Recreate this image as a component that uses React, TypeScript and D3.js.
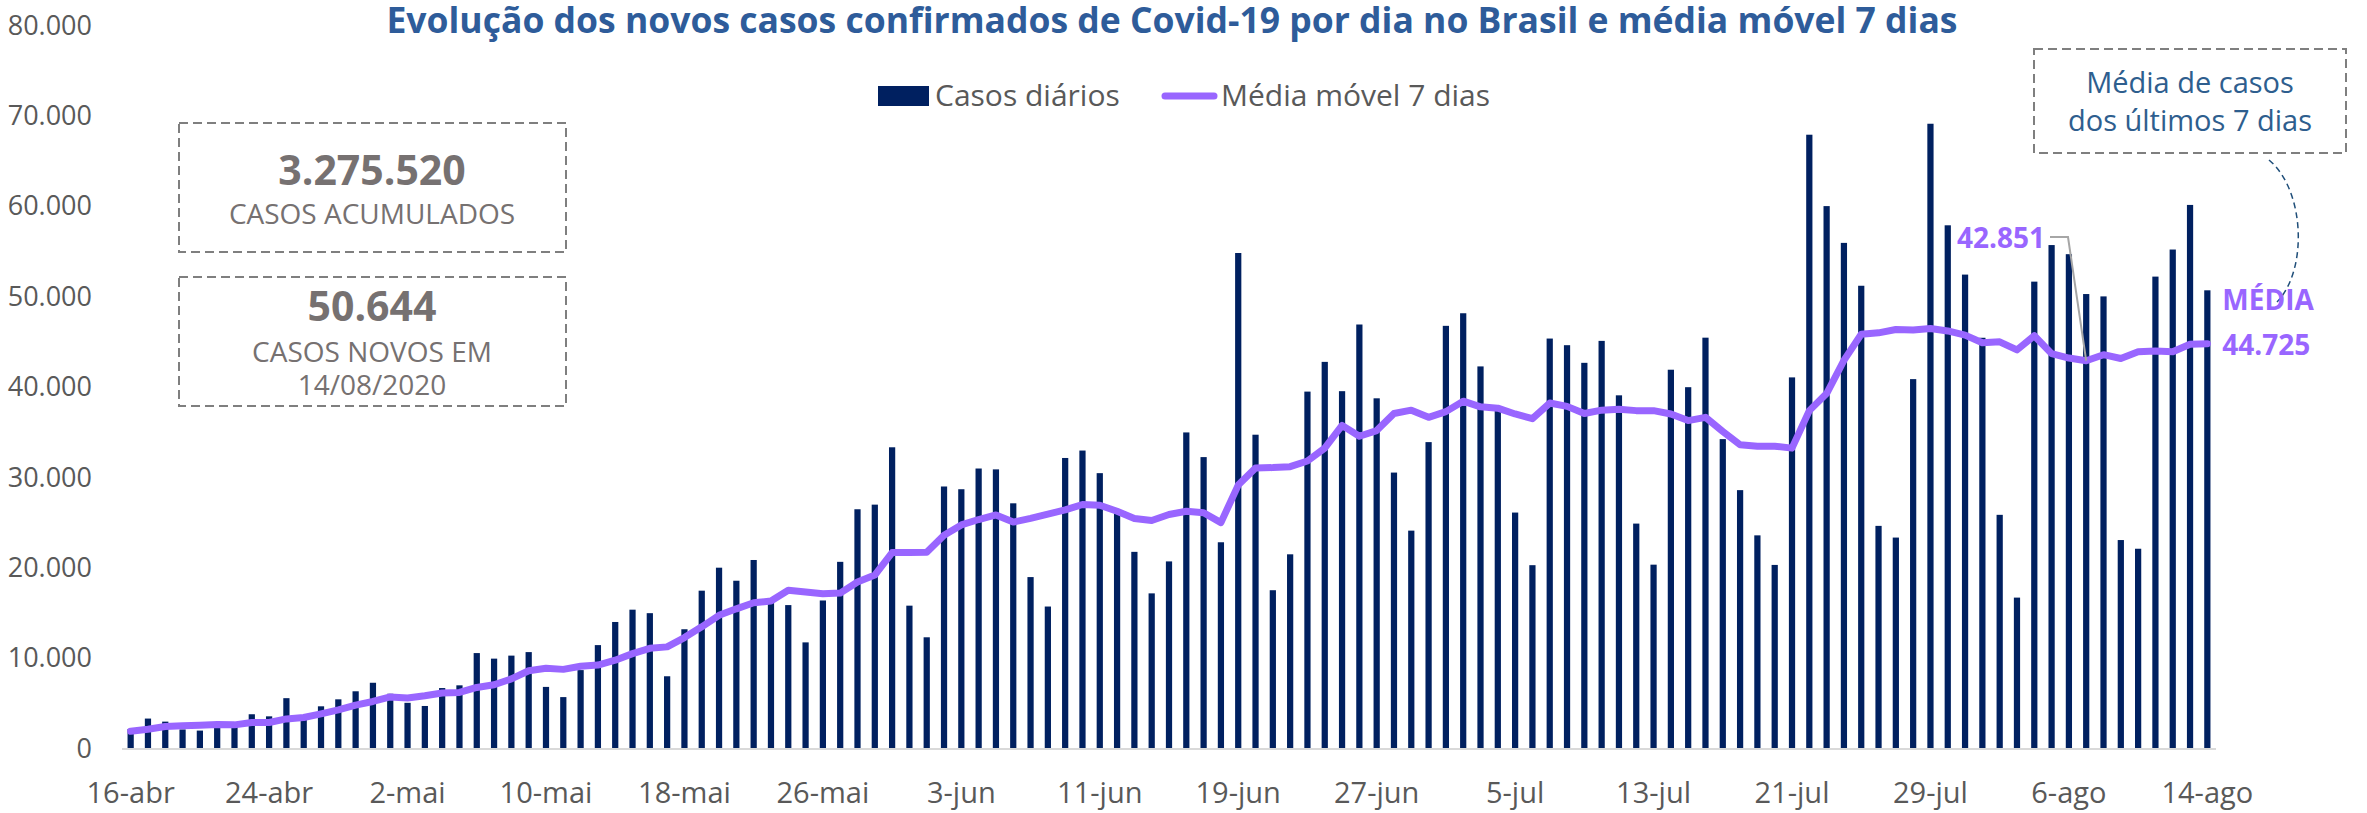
import React from "react";
import * as d3 from "d3";

const W = 2367;
const H = 813;
const FONT = "'Open Sans', 'Noto Sans', sans-serif";

const MONTHS = ["jan", "fev", "mar", "abr", "mai", "jun", "jul", "ago", "set", "out", "nov", "dez"];
const days = d3.timeDay.range(new Date(2020, 3, 16), new Date(2020, 7, 15));
const categories = days.map((d) => `${d.getDate()}-${MONTHS[d.getMonth()]}`);

// casos diários, 16-abr .. 14-ago
const dailyCases = [
  2105, 3257, 2917, 2055, 1927, 2498, 2678, 3735, 3503, 5514,
  3379, 4613, 5385, 6276, 7218, 6000, 5000, 4650, 6633, 6935,
  10503, 9888, 10222, 10611, 6760, 5632, 8620, 11385, 13944, 15305,
  14919, 7938, 13140, 17408, 19951, 18508, 20803, 16508, 15813, 11687,
  16324, 20599, 26417, 26928, 33274, 15750, 12250, 28936, 28633, 30925,
  30830, 27075, 18912, 15654, 32091, 32913, 30412, 25982, 21704, 17110,
  20647, 34918, 32188, 22765, 54771, 34666, 17459, 21432, 39436, 42725,
  39483, 46860, 38693, 30476, 24052, 33846, 46712, 48105, 42223, 37400,
  26051, 20229, 45305, 44571, 42619, 45048, 39023, 24831, 20286, 41857,
  39924, 45403, 34177, 28532, 23529, 20257, 41008, 67860, 59961, 55891,
  51147, 24578, 23284, 40816, 69074, 57837, 52383, 45392, 25800, 16641,
  51603, 55650, 54641, 50230, 49970, 23010, 22048, 52160, 55155, 60091,
  50644,
];

// média móvel 7 dias
const movingAvg = [
  1850, 2075, 2370, 2450, 2520, 2590, 2560, 2820, 2820, 3220,
  3370, 3780, 4220, 4740, 5150, 5650, 5540, 5780, 6080, 6150,
  6700, 7000, 7650, 8550, 8830, 8700, 9050, 9180, 9720, 10440,
  11030, 11190, 12220, 13410, 14680, 15400, 16070, 16270, 17460, 17260,
  17060, 17140, 18370, 19130, 21630, 21630, 21670, 23530, 24680, 25280,
  25790, 25000, 25400, 25870, 26350, 26940, 26860, 26190, 25400, 25170,
  25830, 26200, 26040, 24940, 29090, 30980, 31030, 31130, 31760, 33180,
  35700, 34490, 35120, 37010, 37380, 36590, 37220, 38380, 37750, 37600,
  36960, 36440, 38170, 37800, 37010, 37380, 37490, 37330, 37330, 36960,
  36230, 36590, 35020, 33550, 33390, 33390, 33180, 37330, 39220, 42890,
  45780, 45940, 46310, 46250, 46410, 46150, 45680, 44840, 44940, 44050,
  45620, 43630, 43150, 42851, 43520, 43100, 43840, 43940, 43840, 44680,
  44725,
];

const xTickLabels = [
  "16-abr", "24-abr", "2-mai", "10-mai", "18-mai", "26-mai", "3-jun", "11-jun",
  "19-jun", "27-jun", "5-jul", "13-jul", "21-jul", "29-jul", "6-ago", "14-ago",
];
const yTicks = [0, 10000, 20000, 30000, 40000, 50000, 60000, 70000, 80000];

const ptBR = d3.formatLocale({ decimal: ",", thousands: ".", grouping: [3], currency: ["R$", ""] });
const fmt = ptBR.format(",d");

const BAR = "#002060";
const LINE = "#9966ff";
const GRAY_TXT = "#595959";
const BOX_TXT = "#767171";

export default function App() {
  const x = d3
    .scaleBand<string>()
    .domain(categories)
    .range([122, 2216])
    .paddingInner(0.64)
    .paddingOuter(0.32);
  const y = d3.scaleLinear().domain([0, 80000]).range([748, 25]);
  const cx = (c: string) => (x(c) ?? 0) + x.bandwidth() / 2;

  const line = d3
    .line<number>()
    .x((_, i) => cx(categories[i]))
    .y((d) => y(d));

  const iWeek = categories.indexOf("7-ago");
  const last = categories.length - 1;
  const wx = cx(categories[iWeek]);
  const wy = y(movingAvg[iWeek]);
  const lx = cx(categories[last]);
  const ly = y(movingAvg[last]);

  return (
    <svg
      width={W}
      height={H}
      style={{ position: "absolute", left: 0, top: 0, background: "#fff" }}
      fontFamily={FONT}
    >
      <text x={1172} y={33} textAnchor="middle" fontSize={35.5} fontWeight={700} fill="#2e5c9a">
        Evolução dos novos casos confirmados de Covid-19 por dia no Brasil e média móvel 7 dias
      </text>

      {/* legenda */}
      <rect x={878} y={86} width={51} height={20} fill={BAR} />
      <text x={935} y={106} fontSize={30} fill={GRAY_TXT}>Casos diários</text>
      <line x1={1165} x2={1214} y1={96} y2={96} stroke={LINE} strokeWidth={7} strokeLinecap="round" />
      <text x={1221} y={106} fontSize={30} fill={GRAY_TXT}>Média móvel 7 dias</text>

      {/* eixo y */}
      {yTicks.map((t) => (
        <text key={t} x={92} y={y(t)} dy="0.36em" textAnchor="end" fontSize={27} fill={GRAY_TXT}>
          {fmt(t)}
        </text>
      ))}

      {/* barras */}
      {dailyCases.map((v, i) => (
        <rect
          key={categories[i]}
          x={x(categories[i])}
          y={y(v)}
          width={x.bandwidth()}
          height={y(0) - y(v)}
          fill={BAR}
        />
      ))}

      <line x1={122} x2={2216} y1={y(0) + 1} y2={y(0) + 1} stroke="#d9d9d9" strokeWidth={2} />

      {/* média móvel */}
      <path
        d={line(movingAvg) ?? ""}
        fill="none"
        stroke={LINE}
        strokeWidth={7}
        strokeLinejoin="round"
        strokeLinecap="round"
      />

      {/* eixo x */}
      {xTickLabels.map((t) => (
        <text key={t} x={cx(t)} y={803} textAnchor="middle" fontSize={29} fill={GRAY_TXT}>
          {t}
        </text>
      ))}

      {/* caixas à esquerda */}
      <rect x={179} y={123} width={387} height={129} fill="none" stroke="#7f7f7f" strokeWidth={2} strokeDasharray="9,5" />
      <text x={372} y={185} textAnchor="middle" fontSize={41} fontWeight={700} fill={BOX_TXT}>3.275.520</text>
      <text x={372} y={224} textAnchor="middle" fontSize={28} fill={BOX_TXT}>CASOS ACUMULADOS</text>

      <rect x={179} y={277} width={387} height={129} fill="none" stroke="#7f7f7f" strokeWidth={2} strokeDasharray="9,5" />
      <text x={372} y={321} textAnchor="middle" fontSize={41} fontWeight={700} fill={BOX_TXT}>{fmt(dailyCases[last])}</text>
      <text x={372} y={362} textAnchor="middle" fontSize={28} fill={BOX_TXT}>CASOS NOVOS EM</text>
      <text x={372} y={395} textAnchor="middle" fontSize={28} fill={BOX_TXT}>14/08/2020</text>

      {/* caixa à direita */}
      <rect x={2034} y={49} width={312} height={104} fill="none" stroke="#7f7f7f" strokeWidth={2} strokeDasharray="9,5" />
      <text x={2190} y={93} textAnchor="middle" fontSize={29} fill="#2e5e8e">Média de casos</text>
      <text x={2190} y={131} textAnchor="middle" fontSize={29} fill="#2e5e8e">dos últimos 7 dias</text>
      <path
        d="M2269,160 C2305,190 2308,270 2277,302"
        fill="none"
        stroke="#1f4e79"
        strokeWidth={1.5}
        strokeDasharray="6,4"
      />

      {/* rótulos da média */}
      <polyline
        points={`2050,237 2068,237 ${wx},${wy}`}
        fill="none"
        stroke="#a6a6a6"
        strokeWidth={2}
      />
      <text x={2045} y={248} textAnchor="end" fontSize={28} fontWeight={700} fill={LINE}>
        {fmt(movingAvg[iWeek])}
      </text>
      <text x={lx + 15} y={ly - 34} fontSize={28} fontWeight={700} fill={LINE}>MÉDIA</text>
      <text x={lx + 15} y={ly + 11} fontSize={28} fontWeight={700} fill={LINE}>
        {fmt(movingAvg[last])}
      </text>
    </svg>
  );
}
